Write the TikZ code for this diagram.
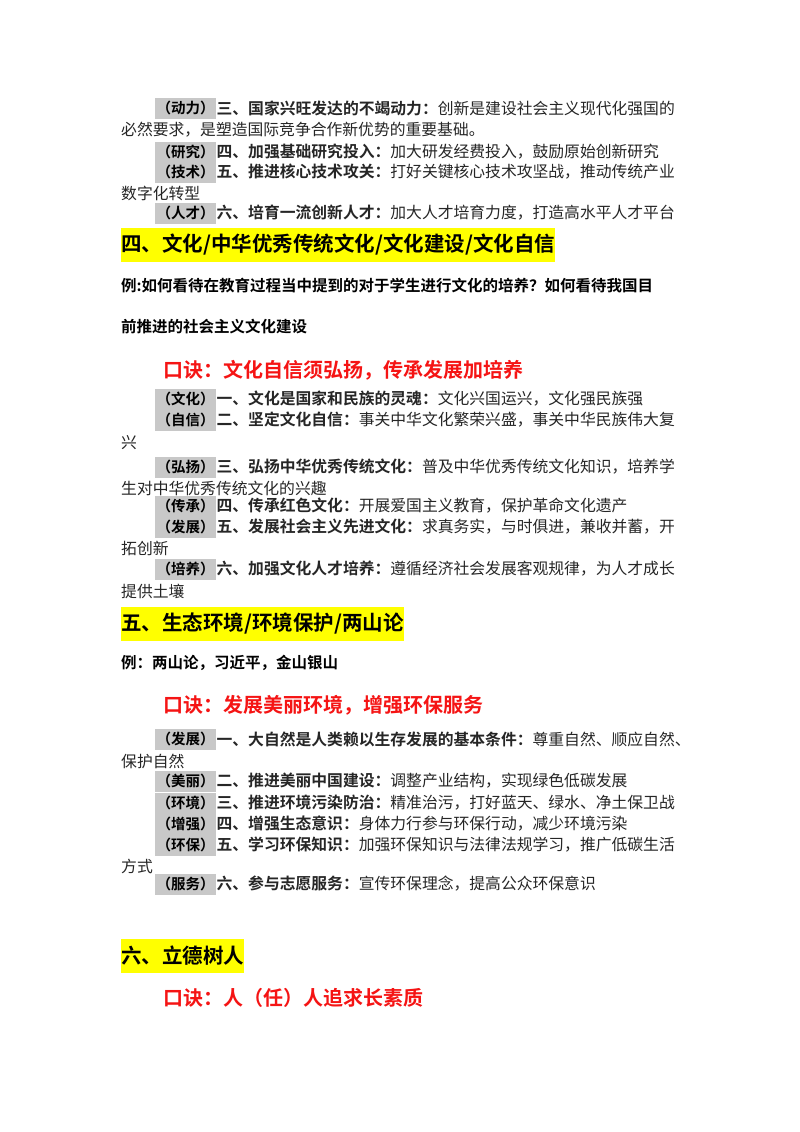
\documentclass[tikz,border=0pt]{standalone}
\usepackage{fontspec}
\setmainfont{Noto Sans CJK SC}
\newfontfamily\cjkb{Noto Sans CJK SC Bold}
\definecolor{lab}{RGB}{200,200,200}
\definecolor{hl}{RGB}{255,255,0}
\definecolor{kred}{RGB}{245,20,20}
\newcommand{\itm}[5]{%
  \node[lbl] (#1l) at (155,#2) {（#3）};
  \node[body,anchor=west] (#1) at (#1l.east) {{\cjkb #4}#5};}
\newcommand{\cont}[3]{\node[body,anchor=west] (#1) at (121,#2) {#3};}
\begin{document}
\begin{tikzpicture}[x=1pt,y=-1pt,
  lbl/.style={anchor=west,fill=lab,inner sep=0pt,minimum width=61pt,minimum height=21pt,font=\fontsize{14.5}{16}\cjkb},
  body/.style={inner sep=0pt,font=\fontsize{15.8}{18}\selectfont,text=black!85},
  head/.style={anchor=west,fill=hl,inner sep=0pt,minimum height=34pt,font=\fontsize{20.5}{24}\cjkb},
  ex/.style={anchor=west,inner sep=0pt,font=\fontsize{15.5}{18}\cjkb},
  kj/.style={anchor=west,inner sep=0pt,text=kred,font=\fontsize{20}{24}\cjkb}]
\useasboundingbox[fill=white] (0,0) rectangle (800,1132);
\itm{a1}{108}{动力}{三、国家兴旺发达的不竭动力：}{创新是建设社会主义现代化强国的}
\cont{a1b}{130}{必然要求，是塑造国际竞争合作新优势的重要基础。}
\itm{a2}{152}{研究}{四、加强基础研究投入：}{加大研发经费投入，鼓励原始创新研究}
\itm{a3}{172}{技术}{五、推进核心技术攻关：}{打好关键核心技术攻坚战，推动传统产业}
\cont{a3b}{193}{数字化转型}
\itm{a4}{213}{人才}{六、培育一流创新人才：}{加大人才培育力度，打造高水平人才平台}
\node[head] (h4) at (121,245) {四、文化/中华优秀传统文化/文化建设/文化自信};
\node[ex] (e4a) at (121,286) {例:如何看待在教育过程当中提到的对于学生进行文化的培养？如何看待我国目};
\node[ex] (e4b) at (121,327) {前推进的社会主义文化建设};
\node[kj] (k4) at (163,370) {口诀：文化自信须弘扬，传承发展加培养};
\itm{b1}{399}{文化}{一、文化是国家和民族的灵魂：}{文化兴国运兴，文化强民族强}
\itm{b2}{420}{自信}{二、坚定文化自信：}{事关中华文化繁荣兴盛，事关中华民族伟大复}
\cont{b2b}{443}{兴}
\itm{b3}{467}{弘扬}{三、弘扬中华优秀传统文化：}{普及中华优秀传统文化知识，培养学}
\cont{b3b}{488}{生对中华优秀传统文化的兴趣}
\itm{b4}{506}{传承}{四、传承红色文化：}{开展爱国主义教育，保护革命文化遗产}
\itm{b5}{527}{发展}{五、发展社会主义先进文化：}{求真务实，与时俱进，兼收并蓄，开}
\cont{b5b}{548}{拓创新}
\itm{b6}{569}{培养}{六、加强文化人才培养：}{遵循经济社会发展客观规律，为人才成长}
\cont{b6b}{591}{提供土壤}
\node[head] (h5) at (121,624) {五、生态环境/环境保护/两山论};
\node[ex] (e5) at (121,663) {例：两山论，习近平，金山银山};
\node[kj] (k5) at (163,705) {口诀：发展美丽环境，增强环保服务};
\itm{c1}{739}{发展}{一、大自然是人类赖以生存发展的基本条件：}{尊重自然、顺应自然、}
\cont{c1b}{761}{保护自然}
\itm{c2}{781}{美丽}{二、推进美丽中国建设：}{调整产业结构，实现绿色低碳发展}
\itm{c3}{803}{环境}{三、推进环境污染防治：}{精准治污，打好蓝天、绿水、净土保卫战}
\itm{c4}{824}{增强}{四、增强生态意识：}{身体力行参与环保行动，减少环境污染}
\itm{c5}{845}{环保}{五、学习环保知识：}{加强环保知识与法律法规学习，推广低碳生活}
\cont{c5b}{866}{方式}
\itm{c6}{884}{服务}{六、参与志愿服务：}{宣传环保理念，提高公众环保意识}
\node[head] (h6) at (121,956) {六、立德树人};
\node[kj] (k6) at (163,998) {口诀：人（任）人追求长素质};
\end{tikzpicture}
\end{document}
